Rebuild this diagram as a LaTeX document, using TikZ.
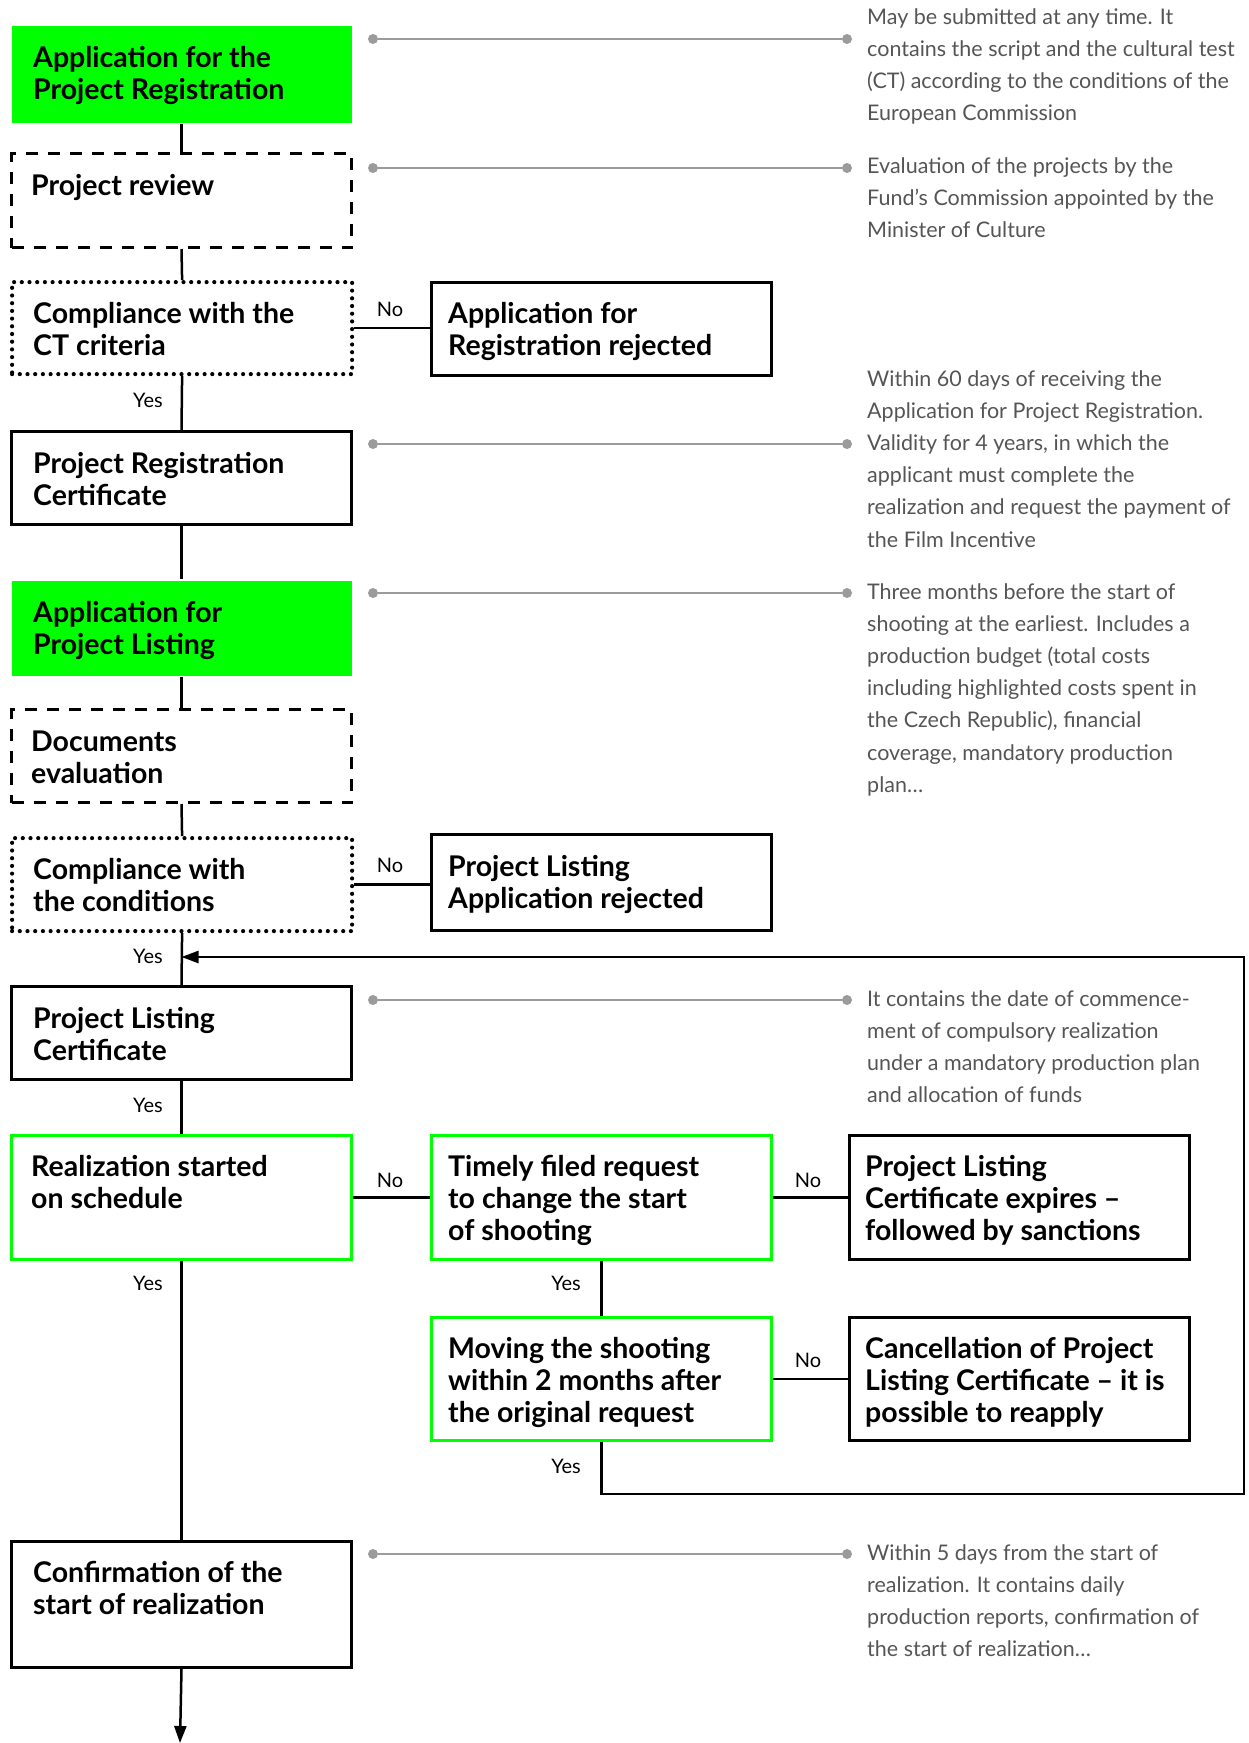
\documentclass[tikz,border=0pt]{standalone}
\usepackage{fontspec}
\setmainfont{Lato}
\usetikzlibrary{arrows.meta}
\definecolor{brgreen}{RGB}{0,255,0}
\definecolor{sidegray}{RGB}{85,85,85}
\definecolor{linegray}{RGB}{155,155,155}
\newcommand{\mlines}[1]{\begin{tabular}[t]{@{}l@{}}#1\end{tabular}}
\tikzset{
  bx/.style={draw=black, line width=3pt, minimum width=340pt, inner sep=0pt, anchor=north west},
  dashbox/.style={bx, dash pattern=on 12pt off 10pt},
  dotbox/.style={bx, line width=4.2pt, line cap=round, dash pattern=on 0pt off 7.7pt},
  gbox/.style={bx, draw=brgreen},
  gfill/.style={bx, draw=none, fill=brgreen},
  btxt/.style={anchor=base west, inner sep=0pt, font=\fontsize{28.5}{32}\selectfont\bfseries},
  stxt/.style={anchor=base west, inner sep=0pt, text=sidegray, font=\fontsize{21.5}{32.2}\selectfont},
  lab/.style={inner sep=0pt, font=\fontsize{20}{22}\selectfont},
  conn/.style={line width=2.5pt},
  leader/.style={draw=linegray, line width=2pt},
  gdot/.style={circle, fill=linegray, minimum size=10pt, inner sep=0pt},
  tip/.style={-{Triangle[length=17pt,width=12pt]}}
}
\begin{document}
\begin{tikzpicture}[x=1pt,y=-1pt]
\useasboundingbox (0,0) rectangle (1248,1743);
% left column boxes
\node[gfill, minimum height=97pt] (b1) at (10,24) {};
\node[dashbox, minimum height=94pt] (b2) at (10,152) {};
\node[dotbox, minimum height=92pt] (b3) at (10,280) {};
\node[bx, minimum height=93pt] (b4) at (10,430) {};
\node[gfill, minimum height=95pt] (b5) at (10,579) {};
\node[dashbox, minimum height=93pt] (b6) at (10,708) {};
\node[dotbox, minimum height=93pt] (b7) at (10,836) {};
\node[bx, minimum height=93pt] (b8) at (10,985) {};
\node[gbox, minimum height=124pt] (b9) at (10,1134) {};
\node[bx, minimum height=126pt] (b10) at (10,1540) {};
% middle and right boxes
\node[bx, minimum height=93pt] (r1) at (430,281) {};
\node[bx, minimum height=96pt] (r2) at (430,833) {};
\node[gbox, minimum height=124pt] (t) at (430,1134) {};
\node[gbox, minimum height=123pt] (m) at (430,1316) {};
\node[bx, minimum height=124pt] (e) at (848,1134) {};
\node[bx, minimum height=123pt] (c) at (848,1316) {};
% box texts
\node[btxt] (tx1) at (33,67) {\mlines{Application for the\\Project Registration}};
\node[btxt] (tx2) at (31,195) {\mlines{Project review}};
\node[btxt] (tx3) at (33,323) {\mlines{Compliance with the\\CT criteria}};
\node[btxt] (tx4) at (33,473) {\mlines{Project Registration\\Certificate}};
\node[btxt] (tx5) at (33,622) {\mlines{Application for\\Project Listing}};
\node[btxt] (tx6) at (31,751) {\mlines{Documents\\evaluation}};
\node[btxt] (tx7) at (33,879) {\mlines{Compliance with\\the conditions}};
\node[btxt] (tx8) at (33,1028) {\mlines{Project Listing\\Certificate}};
\node[btxt] (tx9) at (31,1176) {\mlines{Realization started\\on schedule}};
\node[btxt] (tx10) at (33,1582) {\mlines{Confirmation of the\\start of realization}};
\node[btxt] (txr1) at (448,323) {\mlines{Application for\\Registration rejected}};
\node[btxt] (txr2) at (448,876) {\mlines{Project Listing\\Application rejected}};
\node[btxt] (txt) at (448,1176) {\mlines{Timely filed request\\to change the start\\of shooting}};
\node[btxt] (txm) at (448,1358) {\mlines{Moving the shooting\\within 2 months after\\the original request}};
\node[btxt] (txe) at (865,1176) {\mlines{Project Listing\\Certificate expires –\\followed by sanctions}};
\node[btxt] (txc) at (865,1358) {\mlines{Cancellation of Project\\Listing Certificate – it is\\possible to reapply}};
% main vertical connectors
\draw[conn] (b1.south) -- (b2.north);
\draw[conn] (b2.south) -- (b3.north);
\draw[conn] (b3.south) -- (b4.north);
\draw[conn] (b4.south) -- (b5.north);
\draw[conn] (b5.south) -- (b6.north);
\draw[conn] (b6.south) -- (b7.north);
\draw[conn] (b7.south) -- (b8.north);
\draw[conn] (b8.south) -- (b9.north);
\draw[conn] (b9.south) -- (b10.north);
\coordinate (bend) at (180,1743);
\draw[conn,tip] (b10.south) -- (bend);
\draw[conn] (t.south) -- (m.north);
% No branches
\draw[conn] (b3.east) -- (b3.east -| r1.west);
\draw[conn] (b7.east) -- (b7.east -| r2.west);
\draw[conn] (b9.east) -- (t.west);
\draw[conn] (t.east) -- (e.west);
\draw[conn] (m.east) -- (c.west);
% return loop
\coordinate (lp) at (1244,1494);
\coordinate (jn) at (181.5,957);
\draw[conn,tip,line join=miter] (m.south) |- (lp) |- (jn);
% Yes / No labels
\node[lab] (n1) at (390,309) {No};
\node[lab] (n2) at (390,865) {No};
\node[lab] (n3) at (390,1180) {No};
\node[lab] (n4) at (808,1180) {No};
\node[lab] (n5) at (808,1360) {No};
\node[lab] (y1) at (148,400) {Yes};
\node[lab] (y2) at (148,956) {Yes};
\node[lab] (y3) at (148,1105) {Yes};
\node[lab] (y4) at (148,1283) {Yes};
\node[lab] (y5) at (566,1283) {Yes};
\node[lab] (y6) at (566,1466) {Yes};
% leader lines
\foreach \i/\yy in {1/39,2/168,3/444,4/593,5/1000,6/1554}{
  \node[gdot] (la\i) at (373,\yy) {};
  \node[gdot] (lb\i) at (847,\yy) {};
  \draw[leader] (la\i) -- (lb\i);
}
% side texts
\node[stxt] (s1) at (867,24) {\mlines{May be submitted at any time. It\\contains the script and the cultural test\\(CT) according to the conditions of the\\European Commission}};
\node[stxt] (s2) at (867,173) {\mlines{Evaluation of the projects by the\\Fund’s Commission appointed by the\\Minister of Culture}};
\node[stxt] (s3) at (867,386) {\mlines{Within 60 days of receiving the\\Application for Project Registration.\\Validity for 4 years, in which the\\applicant must complete the\\realization and request the payment of\\the Film Incentive}};
\node[stxt] (s4) at (867,599) {\mlines{Three months before the start of\\shooting at the earliest. Includes a\\production budget (total costs\\including highlighted costs spent in\\the Czech Republic), financial\\coverage, mandatory production\\plan…}};
\node[stxt] (s5) at (867,1006) {\mlines{It contains the date of commence-\\ment of compulsory realization\\under a mandatory production plan\\and allocation of funds}};
\node[stxt] (s6) at (867,1560) {\mlines{Within 5 days from the start of\\realization. It contains daily\\production reports, confirmation of\\the start of realization…}};
\end{tikzpicture}
\end{document}
